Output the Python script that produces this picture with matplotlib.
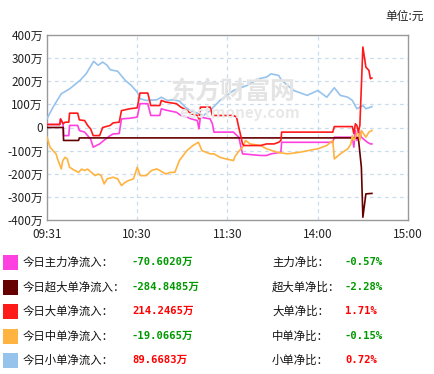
import matplotlib
matplotlib.use("Agg")
import matplotlib.pyplot as plt
from matplotlib.patches import Rectangle

plt.rcParams['font.family'] = ['Noto Sans CJK SC', 'DejaVu Sans']

# ---- data (trading minutes since 09:30, values in 万元) ----
small_t = [0, 4, 9.5, 15, 22, 26, 31, 34, 37, 40, 42, 47, 52, 56, 60, 62, 66, 73, 76, 80, 84, 88, 92, 95, 100,
           104, 108.5, 115, 124, 133, 141, 146, 149, 154, 156, 160, 164, 173, 180, 186, 191, 195, 200, 203, 206,
           210, 212, 216]
small_v = [38, 88, 146, 167, 204, 232, 286, 269, 283, 269, 250, 243, 204, 182, 153, 124, 117, 120, 131, 117, 120,
           114, 88, 74, 62, 52, 74, 117, 160, 182, 211, 218, 232, 225, 204, 182, 160, 139, 160, 131, 172, 139, 131,
           117, 81, 95, 81, 90]

large_t = [0, 8.5, 9, 10.7, 12, 14.5, 15, 20.4, 21.5, 25, 27, 29, 30.7, 35, 37, 42, 44, 48, 49.5, 55, 60, 61.8,
           67, 69, 75, 76, 79, 86, 89, 93, 96, 100, 101, 102, 108.5, 110, 124, 126, 127.5, 128.5, 130, 131, 142,
           146, 151, 154, 155.5, 156, 168, 190, 191, 203, 204, 205, 206, 207, 208, 210, 212, 214, 215, 216]
large_v = [13, 13, 37, 16, 23, 23, 62, 62, 33, 30, 9, -6, -35, -35, 0, 9, 20, 23, 73, 81, 85, 149, 149, 95, 95,
           117, 110, 103, 88, 74, 59, 52, 37, 88, 88, 52, 52, 45, 0, -27, -71, -78, -78, -71, -71, -64, -56, -20,
           -20, -20, 4, 4, -27, 16, 9, -20, 9, 348, 261, 247, 211, 214]

super_t = [0, 10.8, 11, 21, 21.5, 207, 209, 210, 212, 216]
super_v = [0, 0, -56, -56, -45, -45, -172, -388, -287, -285]

main_t = [0, 8.5, 9, 10.7, 11, 14.5, 15, 20.4, 21.5, 25, 27, 29, 30.7, 35, 37, 42, 44, 48, 49.5, 55, 60, 61.8,
          67, 69, 75, 76, 79, 86, 89, 93, 96, 100, 101, 102, 108.5, 110, 111, 124, 125, 127.5, 130, 142, 146,
          149, 155.5, 156, 168, 190, 191, 203, 204, 205, 206, 208, 209, 213, 215, 216]
main_v = [13, 13, 37, 16, -35, -35, 9, 9, -13, -20, -35, -50, -85, -71, -60, -35, -28, -26, 37, 40, 45, 103, 103,
          52, 52, 81, 75, 66, 52, 45, 37, 30, -6, 45, 37, 15, -20, -20, -27, -42, -114, -121, -121, -114, -107,
          -64, -64, -64, -42, -42, -85, -13, -56, -20, -42, -64, -71, -71]

medium_t = [0, 2, 4, 6, 7, 9.5, 10.5, 12, 13.5, 15, 18.5, 21, 23, 25, 27, 29.5, 32, 34, 36, 38, 40, 44, 47, 49.5,
            52, 54, 57.5, 60, 62, 66, 69.5, 73, 75, 79, 82, 85, 88, 93, 97, 100.7, 103, 108.5, 111, 115, 119, 124,
            125, 127, 130, 132, 135, 142, 146, 153, 160, 168, 180, 186, 190, 191, 195, 200, 202, 203, 204, 206,
            207, 208, 209, 212, 214, 216]
medium_v = [-42, -85, -100, -114, -136, -179, -143, -129, -136, -172, -186, -194, -180, -186, -180, -194, -208,
            -201, -208, -244, -222, -215, -222, -251, -237, -230, -222, -172, -208, -208, -186, -179, -186, -201,
            -194, -194, -143, -100, -78, -64, -100, -114, -114, -129, -136, -143, -125, -107, -85, -56, -71, -78,
            -92, -107, -114, -107, -92, -78, -56, -136, -114, -92, -71, -35, -56, -27, -20, -56, -13, -42, -20, -13]

y_ticks = [400, 300, 200, 100, 0, -100, -200, -300, -400]
y_labels = ['400万', '300万', '200万', '100万', '0', '-100万', '-200万', '-300万', '-400万']
x_ticks = [0, 60, 120, 180, 240]
x_labels = ['09:31', '10:30', '11:30', '14:00', '15:00']

names = ['今日主力净流入：', '今日超大单净流入：', '今日大单净流入：', '今日中单净流入：', '今日小单净流入：']
values = ['-70.6020万', '-284.8485万', '214.2465万', '-19.0665万', '89.6683万']
ratio_names = ['主力净比：', '超大单净比：', '大单净比：', '中单净比：', '小单净比：']
ratios = ['-0.57%', '-2.28%', '1.71%', '-0.15%', '0.72%']
colors = ['#ff40e0', '#660000', '#ff1a1a', '#ffb340', '#96c3ec']

# ---- figure ----
W, H = 435, 374
fig = plt.figure(figsize=(W / 100, H / 100), dpi=100)
ax = fig.add_axes([47 / W, 1 - 220 / H, (408 - 47) / W, (220 - 35) / H])

ax.set_xlim(0, 240)
ax.set_ylim(-400, 400)

grid_c = '#c9dced'
for yv in y_ticks[1:-1]:
    ax.axhline(yv, color=grid_c, lw=0.9, ls=(0, (3, 3)), zorder=0)
for xv in x_ticks[1:-1]:
    ax.axvline(xv, color=grid_c, lw=0.9, ls=(0, (3, 3)), zorder=0)

# watermark
fig.text(233 / W, 1 - 92 / H, '东方财富网', ha='center', va='center', fontsize=18, fontweight='bold',
         color='#e4e4e4', zorder=0)
fig.text(240 / W, 1 - 113 / H, 'eastmoney.com', ha='center', va='center', fontsize=11, fontweight='bold',
         color='#e8e8e8', zorder=0)

lw = 1.2
ax.plot(main_t, main_v, color=colors[0], lw=lw, zorder=2)
ax.plot(super_t, super_v, color=colors[1], lw=lw, zorder=3)
ax.plot(large_t, large_v, color=colors[2], lw=lw, zorder=4)
ax.plot(medium_t, medium_v, color=colors[3], lw=lw, zorder=3)
ax.plot(small_t, small_v, color=colors[4], lw=lw, zorder=3)

ax.set_yticks(y_ticks)
ax.set_yticklabels(y_labels)
ax.set_xticks(x_ticks)
ax.set_xticklabels(x_labels)
ax.tick_params(axis='y', length=0, labelsize=8.5, colors='#222222', pad=3)
ax.tick_params(axis='x', length=0, labelsize=8.5, colors='#222222', pad=6)
for s in ax.spines.values():
    s.set_color('#999999')
    s.set_linewidth(1.0)
ax.set_facecolor('white')

fig.text(424 / W, 1 - 16 / H, '单位:元', ha='right', va='center', fontsize=8.5, color='#222222')

# legend / stats panel
rows_y = [262, 287, 311, 336, 360]
for i in range(5):
    yc = 1 - rows_y[i] / H
    fig.patches.append(Rectangle((3 / W, (H - rows_y[i] - 7.5) / H), 15 / W, 15 / H,
                                 transform=fig.transFigure, facecolor=colors[i], edgecolor='none'))
    fig.text(23 / W, yc, names[i], ha='left', va='center', fontsize=8.2, color='#111111')
    vcol = '#009900' if values[i].startswith('-') else '#ff0000'
    fig.text(132 / W, yc, values[i], ha='left', va='center', fontsize=7.6, fontweight='bold', color=vcol,
             family=['DejaVu Sans Mono', 'Noto Sans CJK SC'])
    fig.text(272 / W, yc, ratio_names[i], ha='left', va='center', fontsize=8.2, color='#111111')
    rcol = '#009900' if ratios[i].startswith('-') else '#ff0000'
    fig.text(345 / W, yc, ratios[i], ha='left', va='center', fontsize=7.6, fontweight='bold', color=rcol,
             family=['DejaVu Sans Mono', 'Noto Sans CJK SC'])

fig.savefig('out.png', dpi=100, facecolor='white')
